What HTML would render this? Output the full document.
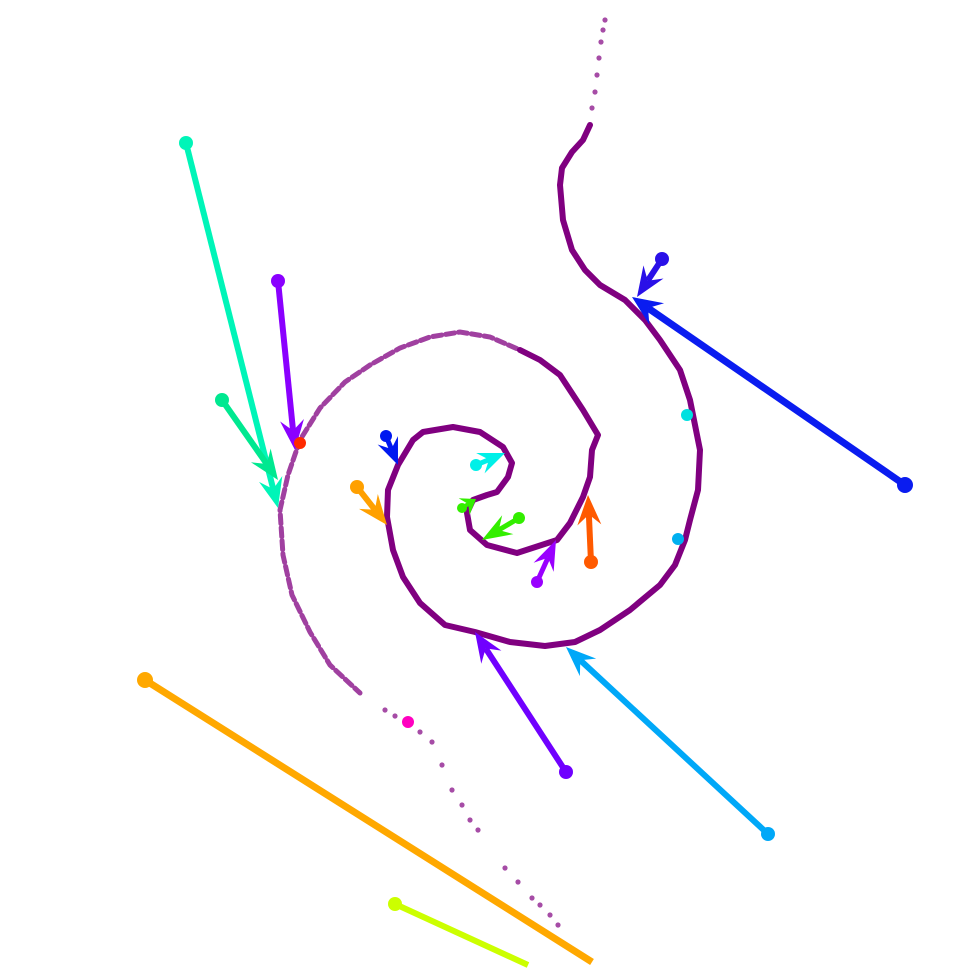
<!DOCTYPE html>
<html><head><meta charset="utf-8"><style>html,body{margin:0;padding:0;background:#fff}svg{display:block}</style></head>
<body>
<svg id="c" width="980" height="980" viewBox="0 0 980 980"></svg>
<script>
// spiral trajectory (solid part), from top-right arm inward then out
const spiralSolidX=[590,583,572,562,560,563,572,585,600,625,645,660,680,690,700,698,690,685,675,660,630,600,575,545,510,475,445,420,403,393,387,388,398,413,423,453,480,503,512,508,497,487,473,467,470,487,517,557,570,583,590,592,598,583,560,540,520];
const spiralSolidY=[125,140,152,168,185,220,250,270,285,300,320,340,370,400,450,490,520,540,565,585,610,630,642,646,642,632,625,603,577,550,517,490,465,440,432,427,432,447,463,477,492,495,500,513,530,545,553,540,523,497,477,450,435,410,375,360,350];
// dashed outer arm
const spiralDashX=[540,520,490,460,430,400,370,345,320,300,288,280,283,292,310,330,360];
const spiralDashY=[360,350,337,332,337,348,365,382,408,440,475,510,555,595,632,665,693];
// sparse dots
const dotX=[385,395,420,432,442,452,462,470,478,505,518,532,540,550,558,592,595,597,599,601,603,605];
const dotY=[710,716,732,742,765,790,805,820,830,868,882,898,905,915,925,108,92,75,58,42,30,20];
// vectors: start -> end, colour
const vx0=[186,278,222,905,662,386,357,476,519,537,591,566,768,145,395,462];
const vy0=[143,281,400,485,259,436,487,465,518,582,562,772,834,680,904,508];
const vx1=[278,295,278,632,637,398,387,505,482,556,588,475,566,592,528,476];
const vy1=[508,450,480,297,297,465,525,453,540,540,495,632,647,962,965,499];
const vcol=["#00f5b8","#8a00ff","#00e890","#0a1cf0","#2a10e8","#0018f0","#ffa000","#00f0e8","#33ee00","#9a00ff","#ff5a00","#7000ff","#00a8f8","#ffa800","#ccff00","#33ee00"];
const vw=[6,6,6,7,6,5,6,5,5,5,6,6,6,7,6,4];
const vhead=[1,1,1,1,1,1,1,1,1,1,1,1,1,0,0,1];
// lone points
const px=[687,678,300,408];
const py=[415,539,443,722];
const pcol=["#00e0e0","#00b0f0","#ff2a00","#ff00c0"];

const NS="http://www.w3.org/2000/svg",svg=document.getElementById('c');
function el(t,a){const e=document.createElementNS(NS,t);for(const k in a)e.setAttribute(k,a[k]);svg.appendChild(e);return e;}
function pts(X,Y){return X.map((x,i)=>x+","+Y[i]).join(" ");}
let s=el('polyline',{points:pts(spiralSolidX,spiralSolidY),fill:'none',stroke:'#800080','stroke-width':6,'stroke-linejoin':'round','stroke-linecap':'round'});


let d=el('polyline',{points:pts(spiralDashX,spiralDashY),fill:'none',stroke:'#800080','stroke-opacity':0.75,'stroke-width':5,'stroke-dasharray':'9 4','stroke-linecap':'round'});


dotX.forEach((x,i)=>{const c=el('circle',{cx:x,cy:dotY[i],r:2.6,fill:'#800080','fill-opacity':0.7});

});
vx0.forEach((x0,i)=>{const y0=vy0[i],x1=vx1[i],y1=vy1[i],dx=x1-x0,dy=y1-y0,L=Math.hypot(dx,dy),ux=dx/L,uy=dy/L;
const hl=Math.min(30,L*0.85),hw=vw[i]+6;
const g=el('g',{});


const mx=x1-ux*hl*0.65,my=y1-uy*hl*0.65;
const bx=vhead[i]?mx:x1,by=vhead[i]?my:y1;
const l=document.createElementNS(NS,'line');
[['x1',x0],['y1',y0],['x2',bx],['y2',by],['stroke',vcol[i]],['stroke-width',vw[i]]].forEach(a=>l.setAttribute(a[0],a[1]));g.appendChild(l);
const c=document.createElementNS(NS,'circle');
[['cx',x0],['cy',y0],['r',vw[i]+1],['fill',vcol[i]]].forEach(a=>c.setAttribute(a[0],a[1]));g.appendChild(c);
if(vhead[i]){const p=document.createElementNS(NS,'polygon');
const hx=x1-ux*hl,hy=y1-uy*hl,nx=-uy,ny=ux;
p.setAttribute('points',[x1+","+y1,(hx+nx*hw)+","+(hy+ny*hw),mx+","+my,(hx-nx*hw)+","+(hy-ny*hw)].join(" "));
p.setAttribute('fill',vcol[i]);g.appendChild(p);}
});
px.forEach((x,i)=>{const c=el('circle',{cx:x,cy:py[i],r:6,fill:pcol[i]});

});
</script>
</body></html>
